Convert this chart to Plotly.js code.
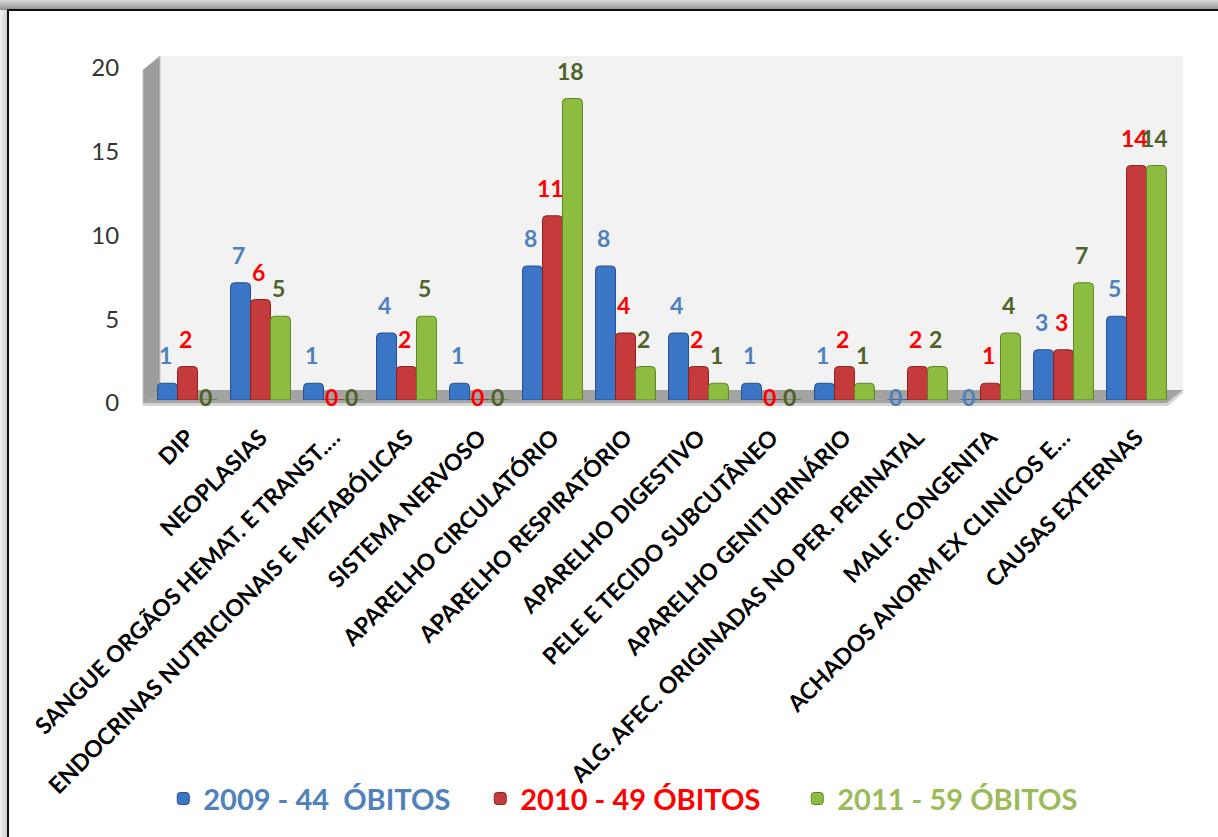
<!DOCTYPE html>
<html>
<head>
<meta charset="utf-8">
<script src="https://cdn.plot.ly/plotly-3.0.1.min.js"></script>
<style>
  html, body { margin: 0; padding: 0; width: 1218px; height: 837px; overflow: hidden; background: #ffffff; }
  #topshade { position: absolute; left: 0; top: 0; width: 1218px; height: 10px;
              background: linear-gradient(to bottom, #d8d8d8, #8f8f8f); }
  #leftshade { position: absolute; left: 0; top: 10px; width: 7px; height: 827px;
               background: linear-gradient(to right, #f4f4f4, #cfcfcf); }
  #frame { position: absolute; left: 7px; top: 9px; width: 1300px; height: 900px;
           border-left: 2px solid #111; border-top: 2px solid #111; background: #ffffff; }
  #chart { position: absolute; left: 0; top: 0; width: 1218px; height: 837px; }
</style>
</head>
<body>
<div id="topshade"></div>
<div id="leftshade"></div>
<div id="frame"></div>
<div id="chart"></div>
<script>
const categories = [
  "DIP",
  "NEOPLASIAS",
  "SANGUE ORGÃOS HEMAT. E TRANST.…",
  "ENDOCRINAS NUTRICIONAIS E METABÓLICAS",
  "SISTEMA NERVOSO",
  "APARELHO CIRCULATÓRIO",
  "APARELHO RESPIRATÓRIO",
  "APARELHO DIGESTIVO",
  "PELE E TECIDO SUBCUTÂNEO",
  "APARELHO GENITURINÁRIO",
  "ALG. AFEC. ORIGINADAS NO PER. PERINATAL",
  "MALF. CONGENITA",
  "ACHADOS ANORM EX CLINICOS E…",
  "CAUSAS EXTERNAS"
];
const values2009 = [1, 7, 1, 4, 1, 8, 8, 4, 1, 1, 0, 0, 3, 5];
const values2010 = [2, 6, 0, 2, 0, 11, 4, 2, 0, 2, 2, 1, 3, 14];
const values2011 = [0, 5, 0, 5, 0, 18, 2, 1, 0, 1, 2, 4, 7, 14];
const seriesNames = ["2009 - 44  ÓBITOS", "2010 - 49 ÓBITOS", "2011 - 59 ÓBITOS"];
const yTicks = [0, 5, 10, 15, 20];

const FONT = "Lato, 'Open Sans', sans-serif";
const barColors = ["#3b75c6", "#c53a3a", "#8dbd40"];
const lineColors = ["#264f8c", "#8a2323", "#5f8226"];
const labelColors = ["#4f81bd", "#ff0000", "#4f6228"];
const legendColors = ["#4f81bd", "#ff0000", "#9bbb59"];
const allValues = [values2009, values2010, values2011];

// plot geometry (pixels)
const ML = 151, PW = 1022, MT = 65, PH = 338;
const BARGAP = 0.18;
const px = v => ((v - ML) / PW).toFixed(4);
const py = v => ((MT + PH - v) / PH).toFixed(4);

const traces = allValues.map((vals, i) => ({
  type: "bar",
  x: categories,
  y: vals,
  name: '<span style="color:' + legendColors[i] + '">' + seriesNames[i] + '</span>',
  marker: { color: barColors[i], line: { color: lineColors[i], width: 1 }, cornerradius: 4 },
  hoverinfo: "x+y"
}));

// value labels drawn as annotations anchored to each bar's data point
const barW = PW / categories.length * (1 - BARGAP) / allValues.length;
const annotations = [];
allValues.forEach((vals, i) => {
  vals.forEach((v, j) => {
    annotations.push({
      x: categories[j], y: v, xref: "x", yref: "y",
      text: String(v), showarrow: false,
      xshift: (i - 1) * barW - 2,
      yshift: v > 0 ? 28 : 3,
      yanchor: "middle",
      font: { family: FONT, size: 23, color: labelColors[i], weight: 700 }
    });
  });
});

const shapes = [
  // back wall
  { type: "path", xref: "paper", yref: "paper", layer: "below",
    path: `M ${px(160)},${py(393)} L ${px(160)},${py(56)} L ${px(1183)},${py(56)} L ${px(1183)},${py(393)} Z`,
    fillcolor: "#f2f2f2", line: { width: 0 } },
  // left side wall
  { type: "path", xref: "paper", yref: "paper", layer: "below",
    path: `M ${px(143)},${py(408)} L ${px(143)},${py(70)} L ${px(160)},${py(56)} L ${px(160)},${py(393)} Z`,
    fillcolor: "#9c9c9c", line: { color: "#bdbdbd", width: 1 } },
  // floor
  { type: "path", xref: "paper", yref: "paper", layer: "below",
    path: `M ${px(143)},${py(406)} L ${px(160)},${py(393)} L ${px(1183)},${py(393)} L ${px(1167)},${py(406)} Z`,
    fillcolor: "#a3a3a3", line: { width: 0 } },
  // floor front edge
  { type: "path", xref: "paper", yref: "paper", layer: "below",
    path: `M ${px(143)},${py(406)} L ${px(1167)},${py(406)} L ${px(1183)},${py(393)} L ${px(1183)},${py(396)} L ${px(1168)},${py(409)} L ${px(143)},${py(409)} Z`,
    fillcolor: "#d4d4d4", line: { width: 0 } }
];

const layout = {
  width: 1218,
  height: 837,
  margin: { l: ML, r: 1218 - ML - PW, t: MT, b: 837 - MT - PH },
  paper_bgcolor: "rgba(0,0,0,0)",
  plot_bgcolor: "rgba(0,0,0,0)",
  barmode: "group",
  bargap: BARGAP,
  bargroupgap: 0,
  showlegend: true,
  legend: {
    orientation: "h",
    x: 0.012, xanchor: "left",
    y: -1.19, yanchor: "middle",
    entrywidth: 272, entrywidthmode: "pixels",
    font: { family: FONT, size: 29, weight: 700, color: "#4f81bd" },
    bgcolor: "rgba(0,0,0,0)"
  },
  xaxis: {
    type: "category",
    tickangle: -45,
    tickfont: { family: FONT, size: 23, weight: 700, color: "#000000" },
    ticks: "outside", ticklen: 14, tickcolor: "rgba(0,0,0,0)",
    showline: false, showgrid: false, zeroline: false,
    automargin: false
  },
  yaxis: {
    range: [0, 20],
    tickvals: yTicks,
    ticktext: yTicks.map(String),
    tickfont: { family: FONT, size: 24, color: "#333333" },
    ticks: "outside", ticklen: 26, tickcolor: "rgba(0,0,0,0)",
    ticklabelshift: 3,
    showline: false, showgrid: false, zeroline: false,
    automargin: false
  },
  shapes: shapes,
  annotations: annotations,
  font: { family: FONT }
};

Plotly.newPlot("chart", traces, layout, { displayModeBar: false, staticPlot: true });
</script>
</body>
</html>
